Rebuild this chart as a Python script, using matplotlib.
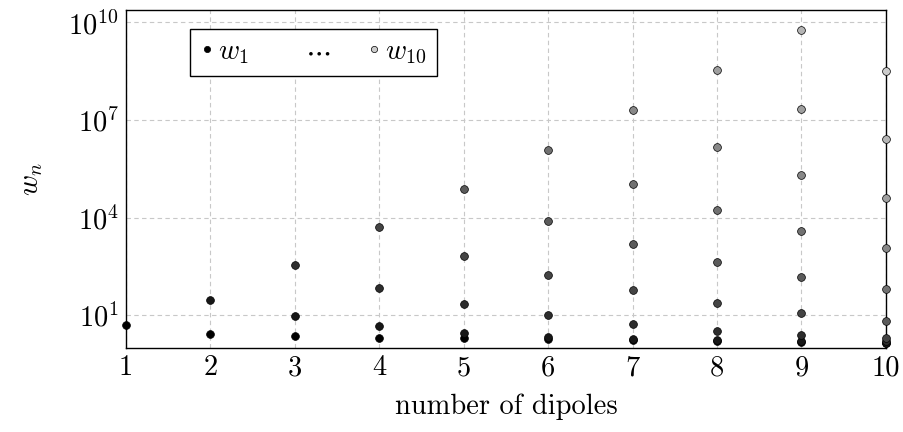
import matplotlib
matplotlib.use("Agg")
import matplotlib.pyplot as plt
from matplotlib.lines import Line2D
import numpy as np

plt.rcParams['font.family'] = 'serif'
plt.rcParams['font.serif'] = ['cmr10']
plt.rcParams['mathtext.fontset'] = 'cm'
plt.rcParams['axes.formatter.use_mathtext'] = True

# weights w_1 ... w_n for each number of dipoles n
n_dipoles = [1, 2, 3, 4, 5, 6, 7, 8, 9, 10]
w_n1 = [4.9]
w_n2 = [2.6, 29]
w_n3 = [2.3, 9.3, 350]
w_n4 = [1.95, 4.6, 68, 5100]
w_n5 = [1.95, 2.85, 22, 660, 76000]
w_n6 = [1.9, 2.15, 10, 170, 8100, 1.2e6]
w_n7 = [1.75, 1.85, 5.2, 58, 1550, 1.07e5, 2.0e7]
w_n8 = [1.62, 1.7, 3.2, 24, 430, 17000, 1.5e6, 3.4e8]
w_n9 = [1.55, 1.62, 2.4, 12, 150, 3900, 2.1e5, 2.2e7, 5.8e9]
w_n10 = [1.35, 1.42, 1.62, 2.05, 6.5, 62, 1150, 41000, 2.6e6, 3.3e8]
weights = [w_n1, w_n2, w_n3, w_n4, w_n5, w_n6, w_n7, w_n8, w_n9, w_n10]


def shade(k):
    g = (k - 1) / 9 * 0.8
    return (g, g, g)


fig = plt.figure(figsize=(9.04, 4.32), dpi=100)
ax = fig.add_axes([0.1394, 0.194, 0.8406, 0.783])

for n, ws in zip(n_dipoles, weights):
    for k, w in enumerate(ws, start=1):
        ax.plot(n, w, 'o', ms=5.6, mfc=shade(k), mec='black', mew=0.5,
                clip_on=False, zorder=3)

ax.set_yscale('log')
ax.set_xlim(1, 10)
ax.set_ylim(10 ** -0.015, 10 ** 10.385)
ax.set_xticks(n_dipoles)
ax.set_xticklabels([str(n) for n in n_dipoles])
ax.set_yticks([1e1, 1e4, 1e7, 1e10])
ax.yaxis.set_minor_locator(matplotlib.ticker.NullLocator())
ax.tick_params(length=0, labelsize=20.5, pad=5)
ax.grid(True, color='#c8c8c8', linestyle=(0, (4, 3)), linewidth=0.8)
for sp in ax.spines.values():
    sp.set_linewidth(1.0)

ax.set_xlabel('number of dipoles', fontsize=20.5, labelpad=9)
ax.set_ylabel('$w_n$', fontsize=20.5, labelpad=17)

handles = [
    Line2D([], [], marker='o', ls='none', ms=4.5, mfc=shade(1), mec='black', mew=0.5),
    Line2D([], [], ls='none'),
    Line2D([], [], marker='o', ls='none', ms=4.5, mfc=shade(10), mec='black', mew=0.5),
]
labels = ['$w_1$', r'$\cdots$', '$w_{10}$']
leg = ax.legend(handles, labels, ncol=3, loc='upper left',
                bbox_to_anchor=(0.084, 0.944), borderaxespad=0, fontsize=20.5,
                frameon=True, fancybox=False, edgecolor='black', framealpha=1,
                handlelength=0.5, handletextpad=0.15, columnspacing=1.3,
                borderpad=0.35)
leg.get_frame().set_linewidth(1.0)

fig.savefig('out.png', dpi=100)
